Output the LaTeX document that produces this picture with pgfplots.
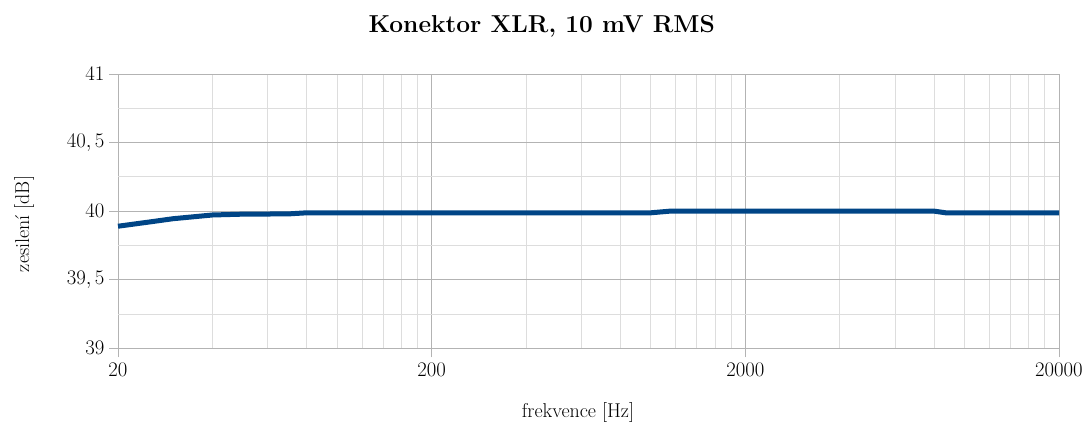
\documentclass[border=0pt]{standalone}
\usepackage{pgfplots}
\pgfplotsset{compat=1.18}
\definecolor{series}{HTML}{004586}
\definecolor{majgrid}{HTML}{B3B3B3}
\definecolor{mingrid}{HTML}{DDDDDD}
\pgfplotstableread{
f g
20 39.89
25 39.92
30 39.945
40 39.972
50 39.978
70 39.980
80 39.988
1000 39.988
1150 40.000
8000 40.000
8700 39.988
20000 39.988
}\gaindata
\begin{document}
\begin{tikzpicture}[x=1pt,y=1pt]
\path[use as bounding box] (0,0) rectangle (1089,425);
\begin{axis}[
  at={(118pt,76.7pt)}, anchor=south west,
  scale only axis, width=941pt, height=274.3pt,
  xmode=log, xmin=20, xmax=20000, ymin=39, ymax=41,
  xtick={20,200,2000,20000},
  xticklabels={$20$,$200$,$2000$,$20000$},
  minor xtick={40,60,80,100,120,140,160,180,400,600,800,1000,1200,1400,1600,1800,4000,6000,8000,10000,12000,14000,16000,18000},
  ytick={39,39.5,40,40.5,41},
  yticklabels={$39$,{$39,5$},$40$,{$40,5$},$41$},
  minor ytick={39.25,39.75,40.25,40.75},
  grid=both,
  major grid style={draw=majgrid, line width=0.9pt},
  minor grid style={draw=mingrid, line width=0.9pt},
  axis line style={draw=none},
  tick pos=left, tick align=outside,
  major tick length=9pt, minor tick length=0pt,
  every tick/.style={draw=majgrid, line width=0.9pt},
  tick label style={font=\fontsize{20.5}{20.5}\selectfont},
  xticklabel style={yshift=-2pt},
  yticklabel style={xshift=-1pt},
  clip=false,
]
\addplot[series, line width=5pt, line join=round] table[x=f,y=g] {\gaindata};
\end{axis}
\node[font=\bfseries\fontsize{24.5}{24.5}\selectfont, anchor=base] at (541.7,392.7) {Konektor XLR, 10 mV RMS};
\node[font=\fontsize{20}{20}\selectfont, anchor=base] at (578,7) {frekvence [Hz]};
\node[font=\fontsize{20}{20}\selectfont, anchor=base, rotate=90] at (29,201) {zesilen\'{\i} [dB]};
\end{tikzpicture}
\end{document}
